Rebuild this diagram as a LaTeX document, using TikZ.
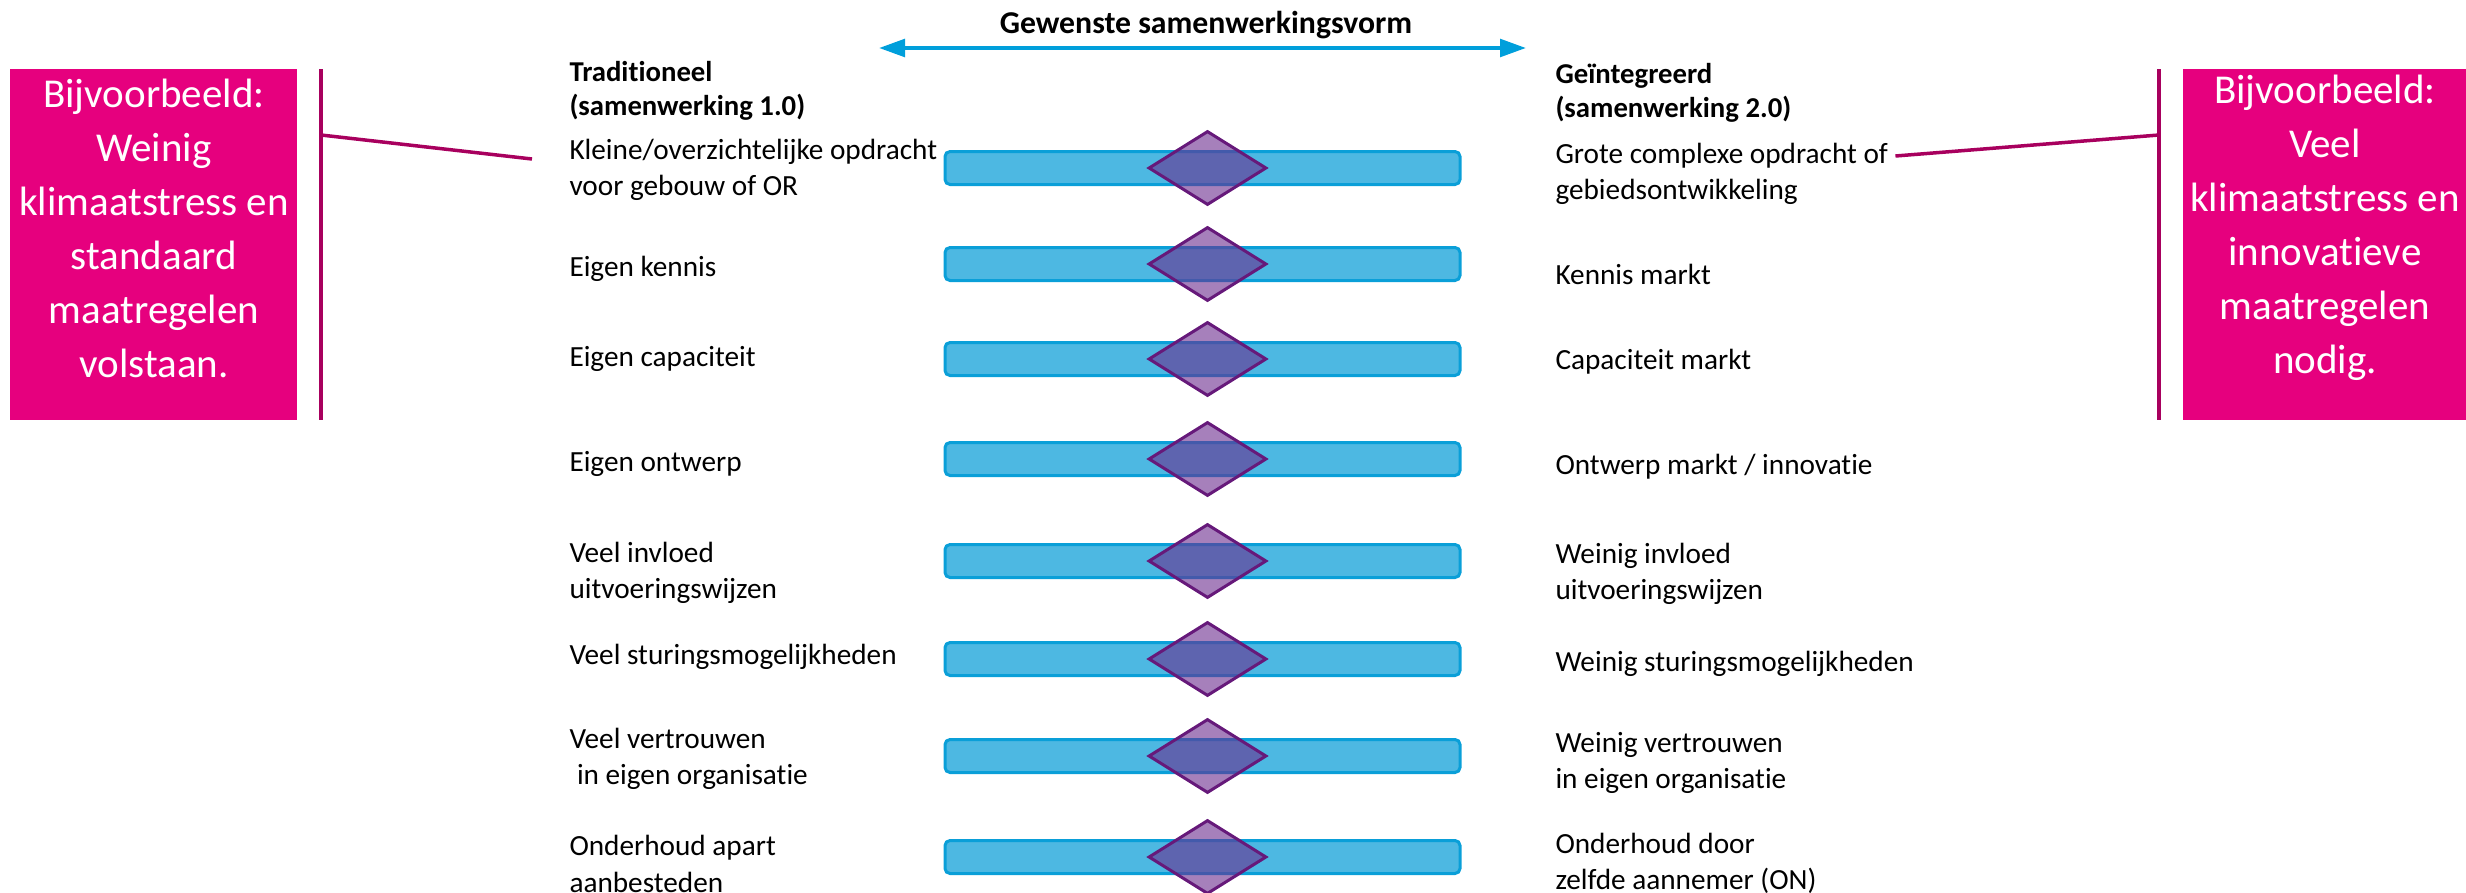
\documentclass[tikz,border=0pt]{standalone}
\usepackage{fontspec}
\setmainfont[Ligatures=NoCommon]{Carlito}
\usetikzlibrary{arrows.meta,shapes.geometric}

\definecolor{pinkbox}{HTML}{E6007E}
\definecolor{pinkline}{HTML}{A8005E}
\definecolor{barfill}{HTML}{4DB8E2}
\definecolor{barline}{HTML}{0A9FD8}
\definecolor{markfill}{HTML}{6A2C8E}
\definecolor{markline}{HTML}{66197A}
\definecolor{arrowblue}{HTML}{009FDB}

\begin{document}
\begin{tikzpicture}[
  x=0.4pt,
  y=-0.4pt,
  row text/.style={
    anchor=west,
    align=left,
    inner sep=0pt,
    font=\fontsize{11.7}{14.5}\selectfont
  },
  head text/.style={
    row text,
    font=\fontsize{11.5}{13.8}\selectfont\bfseries
  },
  scale bar/.style={
    draw=barline,
    fill=barfill,
    line width=1.2pt,
    rounded corners=2pt,
    minimum width=206pt,
    minimum height=13.2pt
  },
  choice mark/.style={
    diamond,
    draw=markline,
    fill=markfill,
    fill opacity=.6,
    line width=1.2pt,
    inner sep=0pt,
    minimum width=47.2pt,
    minimum height=29.6pt
  },
  example text/.style={
    text=white,
    align=center,
    inner sep=0pt,
    font=\fontsize{16.4}{21.6}\selectfont
  },
  pink line/.style={
    draw=pinkline,
    line width=1.4pt
  }
]
\useasboundingbox (0,0) rectangle (2466,893);

% voorbeelden links en rechts
\fill[pinkbox] (10,69) rectangle (297,420);
\fill[pinkbox] (2183,69) rectangle (2466,420);
\node[example text] (voorbeeld-links) at (154,228)
  {Bijvoorbeeld:\\Weinig\\klimaatstress en\\standaard\\maatregelen\\volstaan.};
\node[example text] (voorbeeld-rechts) at (2325,228)
  {Bijvoorbeeld:\\Veel\\klimaatstress en\\innovatieve\\maatregelen\\nodig.};
\draw[pink line] (321,69) -- (321,420);
\draw[pink line] (2159,69) -- (2159,420);
\coordinate (hoek-links) at (321,135);
\coordinate (hoek-rechts) at (2159,135);

% titel en pijl
\node[font=\fontsize{12.7}{15}\selectfont\bfseries] (titel) at (1206,25)
  {Gewenste samenwerkingsvorm};
\coordinate (pijl-links) at (879,48);
\coordinate (pijl-rechts) at (1526,48);
\draw[arrowblue,line width=1.6pt,
  {Triangle[length=10.4pt,width=7pt]}-{Triangle[length=10.4pt,width=7pt]}]
  (pijl-links) -- (pijl-rechts);

\node[head text] (kop-links) at (569,91) {Traditioneel\\(samenwerking 1.0)};
\node[head text] (kop-rechts) at (1555,93) {Geïntegreerd\\(samenwerking 2.0)};

\foreach \yb/\yl/\yr/\links/\rechts [count=\i] in {
  168/170/174/{Kleine/overzichtelijke opdracht\\voor gebouw of OR}/{Grote complexe opdracht of\\gebiedsontwikkeling},
  264/269/274/{Eigen kennis}/{Kennis markt},
  359/359/362/{Eigen capaciteit}/{Capaciteit markt},
  459/464/467/{Eigen ontwerp}/{Ontwerp markt / innovatie},
  561/573/574/{Veel invloed\\uitvoeringswijzen}/{Weinig invloed\\uitvoeringswijzen},
  659/657/664/{Veel sturingsmogelijkheden}/{Weinig sturingsmogelijkheden},
  756/759/763/{Veel vertrouwen\\\hspace*{3pt}in eigen organisatie}/{Weinig vertrouwen\\in eigen organisatie},
  857/864/863/{Onderhoud apart\\aanbesteden}/{Onderhoud door\\zelfde aannemer (ON)}}
{
  \node[scale bar] (balk-\i) at (1202.5,\yb) {};
  \node[choice mark] (ruit-\i) at ([xshift=2pt]balk-\i.center) {};
  \node[row text] (links-\i) at (569,\yl) {\links};
  \node[row text] (rechts-\i) at (1555,\yr) {\rechts};
}

\draw[pink line] (hoek-links) -- ([shift={(-37,-11)}]links-1.west);
\draw[pink line] ([shift={(7,-18)}]rechts-1.east) -- (hoek-rechts);
\end{tikzpicture}
\end{document}
